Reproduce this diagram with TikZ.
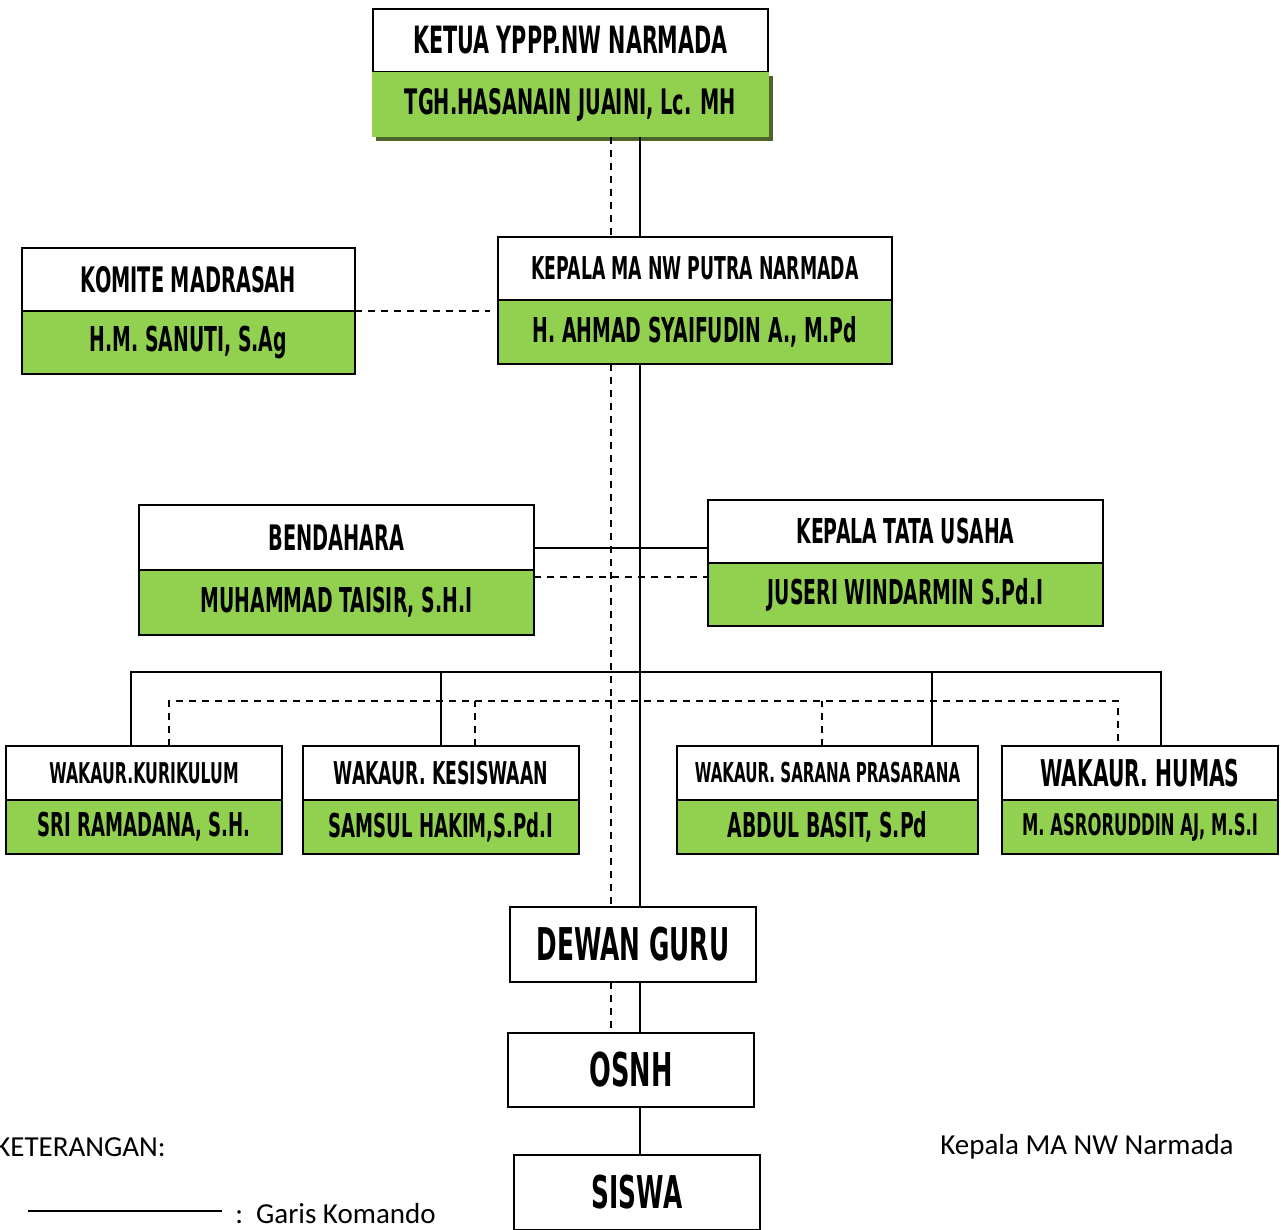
\documentclass[tikz,border=0pt]{standalone}
\usepackage{fontspec}
\setmainfont{Carlito}
\newfontfamily\agency[FakeStretch=0.55]{DejaVu Sans}
\newcommand\agsize[1]{\fontsize{#1}{#1}\selectfont}
\usetikzlibrary{positioning,calc,shadows}
\definecolor{leafgreen}{HTML}{92D050}
\definecolor{leafdark}{HTML}{4F6228}

\begin{document}
\begin{tikzpicture}[x=0.02cm, y=-0.02cm,
		post/.style={draw, rectangle, line width=1.1pt, fill=white, inner sep=0pt, outer sep=0pt, minimum width=#1, minimum height=1.26cm, font=\agency\bfseries},
		holder/.style={post=#1, fill=leafgreen},
		solo/.style={post=4.92cm, minimum height=1.5cm},
		link/.style={line width=1.1pt},
		dlink/.style={line width=1.1pt, dash pattern=on 4pt off 3.4pt},
		note/.style={inner sep=0pt, anchor=west, font=\agsize{16.5}}]
	\useasboundingbox (0,0) rectangle (1281,1230);

	% ketua yayasan
	\node[post=7.9cm] (ketua)at(570.5, 40.5) {\agsize{21.4}KETUA YPPP.NW NARMADA};
	\node[holder=7.96cm, draw=none, minimum height=1.3cm, below=0pt of ketua, drop shadow={shadow xshift=0.08cm, shadow yshift=-0.08cm, fill=leafdark, opacity=1}] (ketuaN) {\agsize{20}TGH.HASANAIN JUAINI, Lc. MH};
	% kepala madrasah dan komite
	\node[post=7.88cm] (kepala)at(695, 268.5) {\agsize{17.9}KEPALA MA NW PUTRA NARMADA};
	\node[holder=7.88cm, minimum height=1.28cm, below=0pt of kepala] (kepalaN) {\agsize{19.5}H. AHMAD SYAIFUDIN A., M.Pd};
	\node[post=6.66cm] (komite)at(188.5, 279.5) {\agsize{20}KOMITE MADRASAH};
	\node[holder=6.66cm, below=0pt of komite] (komiteN) {\agsize{19.5}H.M. SANUTI, S.Ag};
	% bendahara dan tata usaha
	\node[post=7.9cm, minimum height=1.3cm] (bend)at(336.5, 537.5) {\agsize{20}BENDAHARA};
	\node[holder=7.9cm, minimum height=1.3cm, below=0pt of bend] (bendN) {\agsize{19.5}MUHAMMAD TAISIR, S.H.I};
	\node[post=7.9cm] (tu)at(905.5, 531.5) {\agsize{19.5}KEPALA TATA USAHA};
	\node[holder=7.9cm, below=0pt of tu] (tuN) {\agsize{19.5}JUSERI WINDARMIN S.Pd.I};
	% wakaur
	\node[post=5.52cm, minimum height=1.08cm] (kur)at(144, 773) {\agsize{16.3}WAKAUR.KURIKULUM};
	\node[holder=5.52cm, minimum height=1.08cm, below=0pt of kur] (kurN) {\agsize{18.7}SRI RAMADANA, S.H.};
	\node[post=5.52cm, minimum height=1.08cm] (kes)at(441, 773) {\agsize{17.9}WAKAUR. KESISWAAN};
	\node[holder=5.52cm, minimum height=1.08cm, below=0pt of kes] (kesN) {\agsize{18.7}SAMSUL HAKIM,S.Pd.I};
	\node[post=6.02cm, minimum height=1.08cm] (sar)at(827.5, 773) {\agsize{15.6}WAKAUR. SARANA PRASARANA};
	\node[holder=6.02cm, minimum height=1.08cm, below=0pt of sar] (sarN) {\agsize{19.5}ABDUL BASIT, S.Pd};
	\node[post=5.52cm, minimum height=1.08cm] (hum)at(1140, 773) {\agsize{21}WAKAUR. HUMAS};
	\node[holder=5.52cm, minimum height=1.08cm, below=0pt of hum] (humN) {\agsize{17}M. ASRORUDDIN AJ, M.S.I};
	% guru, osnh, siswa
	\node[solo] (dewan)at(633, 944.5) {\agsize{25.7}DEWAN GURU};
	\node[solo, minimum height=1.48cm] (osnh)at(631, 1070) {\agsize{26.5}OSNH};
	\node[solo] (siswa)at(637, 1192.5) {\agsize{25.7}SISWA};

	% garis
	\coordinate (spine)at(640, 0);
	\coordinate (dspine)at(611, 0);
	\coordinate (cmd)at(0, 548);
	\coordinate (coo)at(0, 577);
	\coordinate (bus)at(0, 672);
	\coordinate (dbus)at(0, 701);
	\coordinate (kurC)at($(kur.north)+(-13, 0)$);
	\coordinate (sarC)at($(sar.north)+(104.5, 0)$);
	\coordinate (humC)at($(hum.north)+(21, 0)$);
	\coordinate (kurD)at($(kur.north)+(25, 0)$);
	\coordinate (kesD)at($(kes.north)+(34, 0)$);
	\coordinate (sarD)at($(sar.north)+(-5.5, 0)$);
	\coordinate (humD)at($(hum.north)+(-22, 0)$);
	\draw[link] (ketuaN.south -| spine) -- (kepala.north -| spine);
	\draw[dlink] (ketuaN.south -| dspine) -- (kepala.north -| dspine);
	\draw[link] (kepalaN.south -| spine) -- (dewan.north -| spine);
	\draw[dlink] (kepalaN.south -| dspine) -- (dewan.north -| dspine);
	\draw[link] (dewan.south -| spine) -- (osnh.north -| spine);
	\draw[dlink] (dewan.south -| dspine) -- (osnh.north -| dspine);
	\draw[link] (osnh.south -| spine) -- (siswa.north -| spine);
	\draw[dlink, shorten >=0.16cm] (komite.south east) -- (komite.south east -| kepala.west);
	\draw[link] (bend.east |- cmd) -- (tu.west |- cmd);
	\draw[dlink] (bendN.east |- coo) -- (tuN.west |- coo);
	\draw[link] (kurC) |- (humC |- bus) -- (humC);
	\draw[link] (kes.north) -- (kes.north |- bus);
	\draw[link] (sarC) -- (sarC |- bus);
	\draw[dlink] (kurD) |- (humD |- dbus) -- (humD);
	\draw[dlink] (kesD) -- (kesD |- dbus);
	\draw[dlink] (sarD) -- (sarD |- dbus);

	% keterangan
	\node[note] (legend)at(-5, 1147) {KETERANGAN:};
	\node[note] (sign)at(940, 1147) {Kepala MA NW Narmada};
	\coordinate (ruleA)at(28, 1211);
	\node[note] (ruleTxt)at(235, 1214) {:\hspace{0.45em}Garis Komando};
	\draw[link, line width=1.3pt, shorten >=0.26cm] (ruleA) -- (ruleA -| ruleTxt.west);
\end{tikzpicture}
\end{document}
